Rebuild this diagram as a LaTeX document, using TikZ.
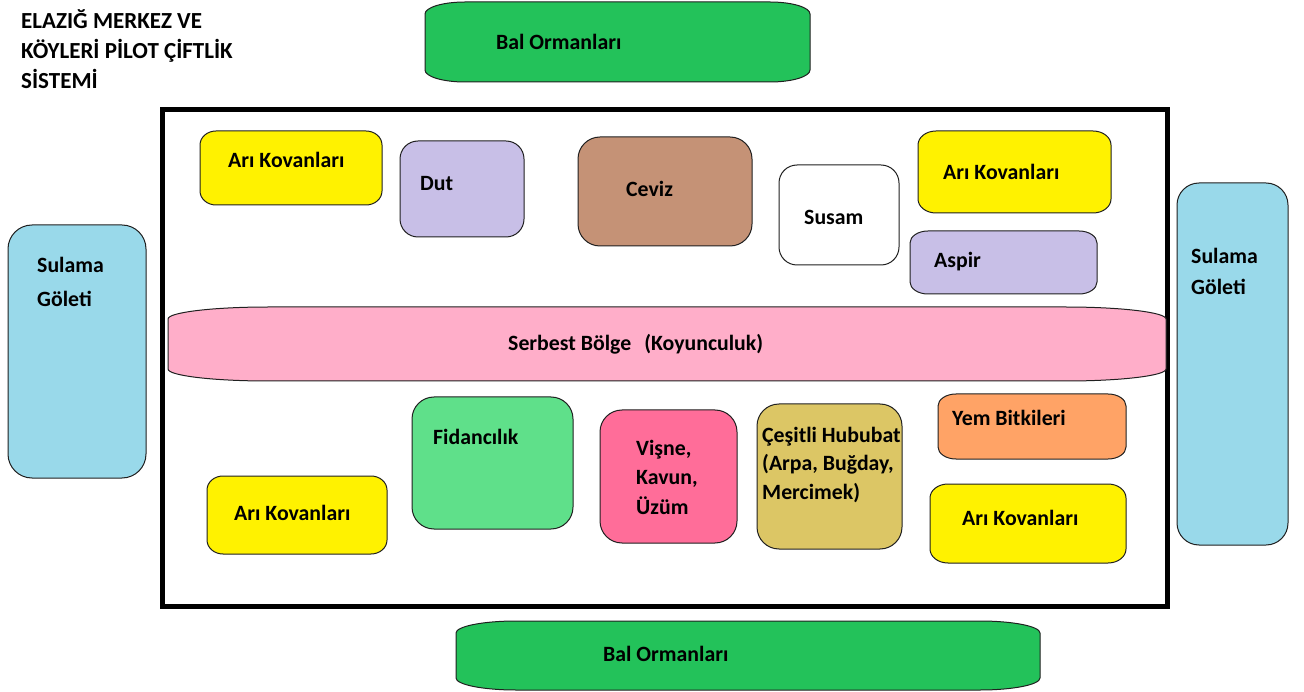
\documentclass[tikz,border=0pt]{standalone}
\usepackage{fontspec}
\setmainfont{Carlito}
\definecolor{outline}{HTML}{202020}
\definecolor{beeyellow}{HTML}{FFF200}
\definecolor{lavender}{HTML}{C8BFE7}
\definecolor{walnut}{HTML}{C59276}
\definecolor{pond}{HTML}{99D9EA}
\definecolor{rose}{HTML}{FFAEC9}
\definecolor{nursery}{HTML}{5FE08A}
\definecolor{cherry}{HTML}{FF6D99}
\definecolor{grain}{HTML}{DCC665}
\definecolor{fodder}{HTML}{FFA366}
\definecolor{forest}{HTML}{23C25A}
% box with elliptical corners: name, x1, y1, x2, y2, rx, ry, fill
\newcommand\ebox[8]{%
  \path[draw=outline, line width=1pt, fill=#8]
    (#2+#6,#3) -- (#4-#6,#3)
    arc[start angle=-90, end angle=0, x radius=#6, y radius=#7]
    -- (#4,#5-#7)
    arc[start angle=0, end angle=90, x radius=#6, y radius=#7]
    -- (#2+#6,#5)
    arc[start angle=90, end angle=180, x radius=#6, y radius=#7]
    -- (#2,#3+#7)
    arc[start angle=180, end angle=270, x radius=#6, y radius=#7]
    -- cycle;
  \node[inner sep=0pt, minimum width={#4-#2}, minimum height={#5-#3}]
    (#1) at ({(#2+#4)/2},{(#3+#5)/2}) {};%
}
\tikzset{
  lbl/.style={anchor=west, inner sep=0pt, align=left,
    font=\fontsize{21.8}{29.5}\selectfont\bfseries},
}
\begin{document}
\begin{tikzpicture}[x=1pt, y=-1pt]
\useasboundingbox (0,0) rectangle (1304,692);

% title
\node[lbl, anchor=north west, font=\fontsize{23}{30}\selectfont\bfseries]
  (title) at (21,9) {ELAZIĞ MERKEZ VE\\KÖYLERİ PİLOT ÇİFTLİK\\SİSTEMİ};

% outer forests
\ebox{balTop}{425}{2}{810}{82}{40}{12}{forest}
\node[lbl] (balTop-t) at (496,42) {Bal Ormanları};
\ebox{balBot}{456}{621}{1040}{690}{60}{12}{forest}
\node[lbl] (balBot-t) at (603,654) {Bal Ormanları};

% irrigation ponds
\ebox{pondL}{8}{225}{146}{478}{24}{24}{pond}
\node[lbl, anchor=north west, font=\fontsize{21.8}{34}\selectfont\bfseries]
  (pondL-t) at (37,257) {Sulama\\Göleti};
\ebox{pondR}{1177}{183}{1288}{545}{22}{22}{pond}
\node[lbl, anchor=north west, font=\fontsize{21.8}{31}\selectfont\bfseries]
  (pondR-t) at (1191,248) {Sulama\\Göleti};

% farm boundary
\node[draw=black, line width=5pt, inner sep=0pt, minimum width=1005pt,
  minimum height=496pt] (farm) at (664.5,358) {};

% upper plots
\ebox{hiveTL}{200}{131}{382}{205}{16}{14}{beeyellow}
\node[lbl] (hiveTL-t) at (228,160) {Arı Kovanları};
\ebox{dut}{400}{141}{524}{237}{18}{18}{lavender}
\node[lbl] (dut-t) at (420,184) {Dut};
\ebox{ceviz}{578}{137}{752}{246}{22}{22}{walnut}
\node[lbl] (ceviz-t) at (626,189) {Ceviz};
\ebox{susam}{779}{165}{899}{265}{18}{18}{white}
\node[lbl] (susam-t) at (804,217) {Susam};
\ebox{hiveTR}{918}{131}{1111}{213}{18}{14}{beeyellow}
\node[lbl] (hiveTR-t) at (943,172) {Arı Kovanları};
\ebox{aspir}{910}{231}{1097}{294}{18}{12}{lavender}
\node[lbl] (aspir-t) at (934,262) {Aspir};

% free grazing zone
\ebox{serbest}{168}{307}{1166}{381}{100}{12}{rose}
\node[lbl] (serbest-t) at (508,344) {Serbest Bölge\hspace{0.6em}(Koyunculuk)};

% lower plots
\ebox{hiveBL}{207}{476}{387}{554}{16}{14}{beeyellow}
\node[lbl] (hiveBL-t) at (234,513) {Arı Kovanları};
\ebox{fidan}{412}{397}{573}{529}{22}{22}{nursery}
\node[lbl] (fidan-t) at (433,437) {Fidancılık};
\ebox{visne}{600}{410}{737}{543}{22}{22}{cherry}
\node[lbl, anchor=north west] (visne-t) at (636,440) {Vişne,\\Kavun,\\Üzüm};
\ebox{hububat}{757}{404}{902}{549}{22}{22}{grain}
\node[lbl, anchor=north west, font=\fontsize{21.8}{28.5}\selectfont\bfseries]
  (hububat-t) at (762,427) {Çeşitli Hububat\\(Arpa, Buğday,\\Mercimek)};
\ebox{yem}{938}{394}{1126}{459}{18}{12}{fodder}
\node[lbl] (yem-t) at (952,418) {Yem Bitkileri};
\ebox{hiveBR}{930}{484}{1126}{563}{18}{14}{beeyellow}
\node[lbl] (hiveBR-t) at (962,518) {Arı Kovanları};
\end{tikzpicture}
\end{document}
